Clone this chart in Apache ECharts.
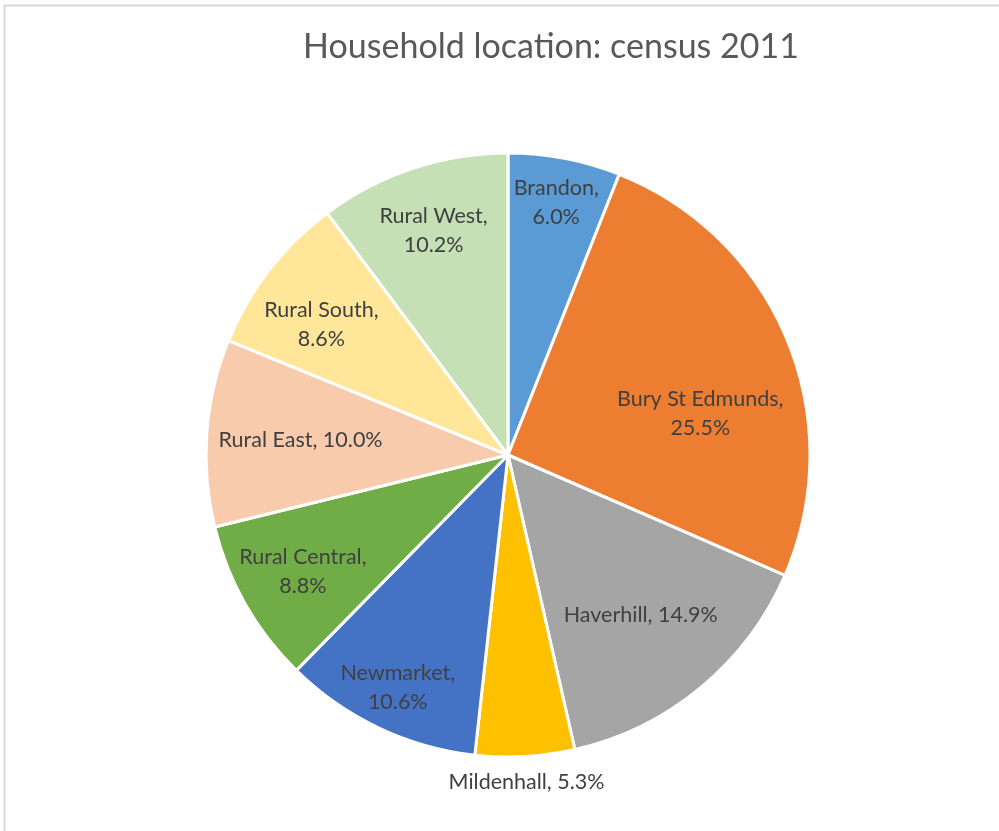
<!DOCTYPE html>
<html>
<head>
<meta charset="utf-8">
<script src="https://cdn.jsdelivr.net/npm/echarts@6/dist/echarts.min.js"></script>
<style>html,body{margin:0;padding:0;background:#fff;}#main{width:999px;height:831px;}</style>
</head>
<body>
<div id="main"></div>
<script>
// ---- data ----
const categories = ['Brandon', 'Bury St Edmunds', 'Haverhill', 'Mildenhall', 'Newmarket', 'Rural Central', 'Rural East', 'Rural South', 'Rural West'];
const values = [6.0, 25.5, 14.9, 5.3, 10.6, 8.8, 10.0, 8.6, 10.2];
const colors = ['#5B9BD5', '#ED7D31', '#A5A5A5', '#FFC000', '#4472C4', '#70AD47', '#F8CBAD', '#FFE699', '#C5E0B4'];
const titleText = 'Household location: census 2011';

// ---- layout (label placement groups, like Excel best fit) ----
const twoLine = {'Brandon':1, 'Bury St Edmunds':1, 'Newmarket':1, 'Rural Central':1, 'Rural South':1, 'Rural West':1};
const labelGroup = {
  'Brandon':'far', 'Newmarket':'far',
  'Rural Central':'mid', 'Rural West':'mid', 'Rural South':'mid',
  'Bury St Edmunds':'near', 'Haverhill':'near', 'Rural East':'near',
  'Mildenhall':'out'
};
const groupRadius = { far:[228, 280], mid:[208, 258], near:[180, 230], out:[312, 338] };
const labelShiftY = { 'Bury St Edmunds': 38, 'Rural South': 14 };
const CENTER = [508, 455];
const R = 302;
const FONT = 'Lato, "Open Sans", sans-serif';

function fmt(p) {
  const sep = twoLine[p.name] ? ',\n' : ', ';
  return p.name + sep + p.value.toFixed(1) + '%';
}

const mainSeries = {
  type: 'pie',
  center: CENTER,
  radius: [0, R],
  startAngle: 90,
  clockwise: true,
  avoidLabelOverlap: false,
  label: { show: false },
  labelLine: { show: false },
  emphasis: { disabled: true },
  itemStyle: { borderColor: '#ffffff', borderWidth: 3 },
  data: categories.map((c, i) => ({ name: c, value: values[i], itemStyle: { color: colors[i] } }))
};

const labelSeries = Object.keys(groupRadius).map(g => ({
  type: 'pie',
  center: CENTER,
  radius: groupRadius[g],
  startAngle: 90,
  clockwise: true,
  silent: true,
  avoidLabelOverlap: false,
  z: 5,
  itemStyle: { color: 'rgba(0,0,0,0)', borderWidth: 0 },
  labelLine: { show: false },
  emphasis: { disabled: true },
  labelLayout: function (p) {
    const n = categories[p.dataIndex];
    return labelShiftY[n] ? { dy: labelShiftY[n] } : {};
  },
  label: {
    show: true,
    position: 'inside',
    formatter: fmt,
    color: '#404040',
    fontFamily: FONT,
    fontSize: 21.5,
    lineHeight: 29,
    align: 'center'
  },
  data: categories.map((c, i) => ({
    name: c, value: values[i],
    label: { show: labelGroup[c] === g }
  }))
}));

const chart = echarts.init(document.getElementById('main'), null, { renderer: 'canvas' });
chart.setOption({
  backgroundColor: '#ffffff',
  animation: false,
  title: {
    text: titleText,
    left: 546,
    top: 25,
    textAlign: 'center',
    textStyle: { color: '#595959', fontFamily: FONT, fontSize: 34, fontWeight: 'normal' }
  },
  tooltip: { show: false },
  graphic: [{
    type: 'rect',
    shape: { x: 4.5, y: 5.5, width: 1200, height: 1200 },
    style: { fill: 'none', stroke: '#d9d9d9', lineWidth: 2 },
    silent: true, z: 100
  }],
  series: [mainSeries].concat(labelSeries)
});
</script>
</body>
</html>
